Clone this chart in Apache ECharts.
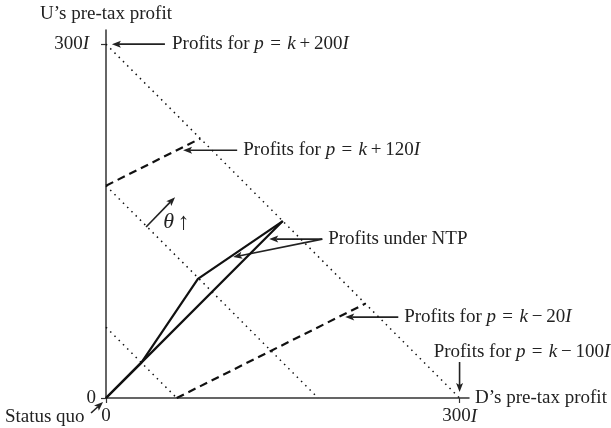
<!DOCTYPE html>
<html>
<head>
<meta charset="utf-8">
<script src="https://cdn.jsdelivr.net/npm/echarts@6/dist/echarts.min.js"></script>
<style>
  html, body { margin: 0; padding: 0; background: #fff; }
  #chart { width: 611px; height: 428px; }
</style>
</head>
<body>
<div id="chart"></div>
<script>
// iso-profit lines (D's profit, U's profit), in units of I
const dottedTop = [[0, 300], [300, 0]];
const dottedMid = [[0, 180], [180, 0]];
const dottedLow = [[0, 60], [60, 0]];
const dashedUpper = [[0, 180], [80, 220]];
const dashedLower = [[60, 0], [220, 80]];
// profits under NTP
const ntpUpper = [[0, 0], [30, 30], [78, 101], [150, 150]];
const ntpLower = [[0, 0], [30, 30], [150, 150]];

// axis ticks
const tickValues = [0, 300];

// annotations: text and anchor (left edge, middle)
const EQ = '\u200a = \u200a';
const noteText = [
  'Profits for {i|p}' + EQ + '{i|k}\u2009+\u2009200{i|I}',
  'Profits for {i|p}' + EQ + '{i|k}\u2009+\u2009120{i|I}',
  'Profits under NTP',
  'Profits for {i|p}' + EQ + '{i|k}\u2009\u2212\u200920{i|I}',
  'Profits for {i|p}' + EQ + '{i|k}\u2009\u2212\u2009100{i|I}',
  '{t|\u03b8}\u2009{a|\u2191}',
  'Status quo'
];
const noteAt = [[56, 300], [116.5, 210], [188.5, 135], [253, 68.6], [278, 39.2], [48.5, 149], [-85.8, -16.1]];

// annotation arrows: [fromX, fromY, toX, toY]
const arrows = [
  [50, 300, 5, 300],
  [111.3, 210, 65.4, 210],
  [183.5, 134.7, 138.5, 134.7],
  [183.5, 134.7, 107.9, 119.5],
  [248, 68.6, 203, 68.6],
  [300, 30.5, 300, 5],
  [34, 145, 58.6, 170.3],
  [-12.7, -12.7, -2.5, -3.4]
];

const FONT = '"Liberation Serif", "Times New Roman", serif';
const FS = 19;
const INK = '#222';
const rich = {
  i: { fontStyle: 'italic', fontFamily: FONT, fontSize: FS, color: INK },
  t: { fontStyle: 'italic', fontFamily: FONT, fontSize: 22, color: INK },
  a: { fontFamily: FONT, fontSize: 24, color: '#555' },
  n: { fontFamily: FONT, fontSize: FS, color: INK }
};

const chart = echarts.init(document.getElementById('chart'));

function lineSeries(data, type, width) {
  return {
    type: 'line', data: data, symbol: 'none', silent: true, animation: false,
    lineStyle: { color: '#111', width: width, type: type }
  };
}

chart.setOption({
  backgroundColor: '#fff',
  animation: false,
  grid: { left: 106, right: 142, top: 30, bottom: 30, outerBoundsMode: 'none', containLabel: false },
  xAxis: {
    type: 'value', min: 0, max: 308,
    name: 'D\u2019s pre-tax profit', nameLocation: 'end', nameGap: 6, nameMoveOverlap: false,
    nameTextStyle: { fontFamily: FONT, fontSize: FS, color: INK, verticalAlign: 'middle', padding: [0, 0, 6, 0] },
    axisLine: { lineStyle: { color: '#333', width: 1.5 } },
    axisTick: { show: true, length: 5, customValues: tickValues, lineStyle: { color: '#333', width: 1.2 } },
    axisLabel: {
      customValues: tickValues, margin: 9,
      formatter: v => v === 300 ? '{n|300}{i|I}' : '{n|0}',
      rich: rich
    },
    splitLine: { show: false }
  },
  yAxis: {
    type: 'value', min: 0, max: 312,
    name: 'U\u2019s pre-tax profit', nameLocation: 'end', nameGap: 6, nameMoveOverlap: false,
    nameTextStyle: { fontFamily: FONT, fontSize: FS, color: INK, align: 'center' },
    axisLine: { lineStyle: { color: '#333', width: 1.5 } },
    axisTick: { show: true, length: 5, customValues: tickValues, lineStyle: { color: '#333', width: 1.2 } },
    axisLabel: {
      customValues: tickValues, margin: 10,
      formatter: v => v === 300 ? '{n|300}{i|I}{p|}' : '{n|0}',
      rich: Object.assign({ p: { width: 7 } }, rich)
    },
    splitLine: { show: false }
  },
  series: [
    lineSeries(dottedTop, [1.5, 4.5], 1.5),
    lineSeries(dottedMid, [1.5, 4.5], 1.5),
    lineSeries(dottedLow, [1.5, 4.5], 1.5),
    lineSeries(dashedUpper, [8, 5], 2.2),
    lineSeries(dashedLower, [8, 5], 2.2),
    lineSeries(ntpUpper, 'solid', 2.2),
    lineSeries(ntpLower, 'solid', 2.2),
    {
      type: 'custom', silent: true, animation: false, clip: false,
      data: arrows,
      encode: { x: [0, 2], y: [1, 3] },
      renderItem: function (params, api) {
        const a = api.coord([api.value(0), api.value(1)]);
        const b = api.coord([api.value(2), api.value(3)]);
        const dx = b[0] - a[0], dy = b[1] - a[1];
        const len = Math.sqrt(dx * dx + dy * dy);
        const ux = dx / len, uy = dy / len;
        const head = 9, half = 3.5;
        const bx = b[0] - ux * head, by = b[1] - uy * head;
        return {
          type: 'group',
          children: [
            { type: 'line', shape: { x1: a[0], y1: a[1], x2: bx + ux * 2, y2: by + uy * 2 },
              style: { stroke: '#222', lineWidth: 1.6 } },
            { type: 'polygon',
              shape: { points: [[b[0], b[1]], [bx - uy * half, by + ux * half], [bx + ux * 2, by + uy * 2], [bx + uy * half, by - ux * half]] },
              style: { fill: '#222' } }
          ]
        };
      }
    },
    {
      type: 'custom', silent: true, animation: false, clip: false,
      data: noteAt.map((p, k) => [p[0], p[1], k]),
      renderItem: function (params, api) {
        const p = api.coord([api.value(0), api.value(1)]);
        return {
          type: 'text', x: p[0], y: p[1],
          style: {
            text: noteText[api.value(2)],
            fontFamily: FONT, fontSize: FS, fill: INK,
            align: 'left', verticalAlign: 'middle',
            rich: rich
          }
        };
      }
    }
  ]
});
</script>
</body>
</html>
